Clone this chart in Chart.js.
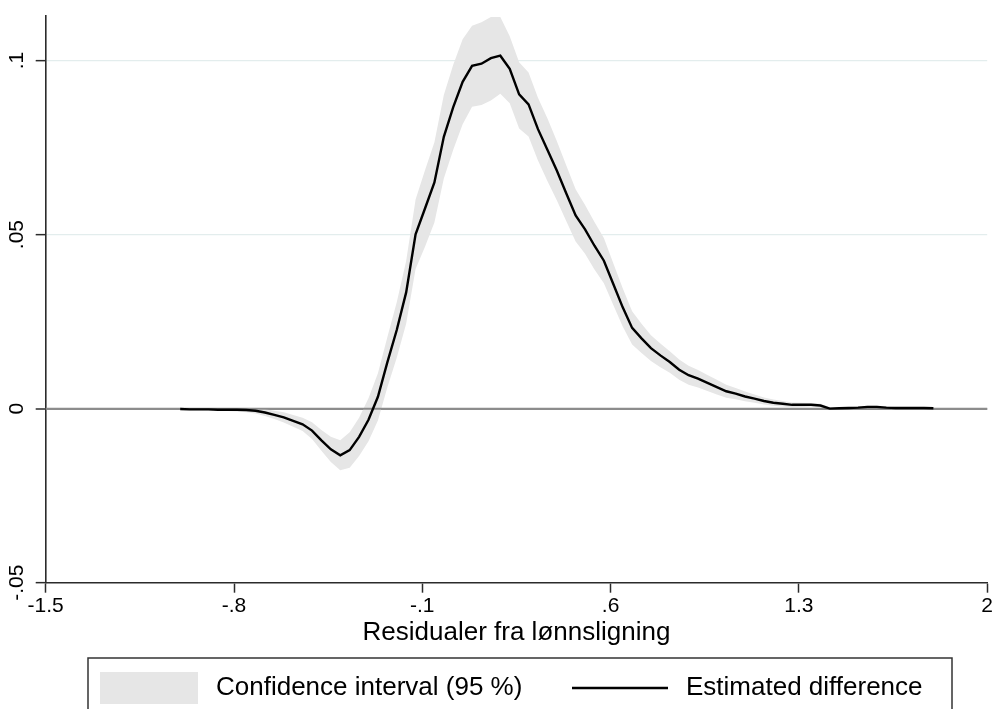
<!DOCTYPE html>
<html>
<head>
<meta charset="utf-8">
<script src="https://cdn.jsdelivr.net/npm/chart.js@4/dist/chart.umd.min.js"></script>
<style>
  html, body { margin: 0; padding: 0; background: #ffffff; }
  #wrap { width: 1000px; height: 709px; position: relative; overflow: hidden; }
</style>
</head>
<body>
<div id="wrap"><canvas id="chart" width="1000" height="709"></canvas></div>
<script>
// Evaluation grid of wage-equation residuals
const residuals = [
  -1.000, -0.965, -0.930, -0.895, -0.860, -0.825, -0.790, -0.755, -0.720, -0.685,
  -0.650, -0.615, -0.580, -0.545, -0.510, -0.475, -0.440, -0.405, -0.370, -0.335,
  -0.300, -0.265, -0.230, -0.195, -0.160, -0.125, -0.090, -0.055, -0.020, 0.015,
  0.050, 0.085, 0.120, 0.155, 0.190, 0.225, 0.260, 0.295, 0.330, 0.365,
  0.400, 0.435, 0.470, 0.505, 0.540, 0.575, 0.610, 0.645, 0.680, 0.715,
  0.750, 0.785, 0.820, 0.855, 0.890, 0.925, 0.960, 0.995, 1.030, 1.065,
  1.100, 1.135, 1.170, 1.205, 1.240, 1.275, 1.310, 1.345, 1.380, 1.415,
  1.450, 1.485, 1.520, 1.555, 1.590, 1.625, 1.660, 1.695, 1.730, 1.765, 1.800
];

// Estimated difference in densities
const estimate = [
  -0.0001, -0.0002, -0.0002, -0.0002, -0.0003, -0.0003, -0.0003, -0.0004, -0.0006, -0.0011,
  -0.0018, -0.0025, -0.0035, -0.0045, -0.0063, -0.0091, -0.0117, -0.0134, -0.0119, -0.0081,
  -0.0032, 0.0034, 0.0133, 0.0226, 0.0334, 0.0501, 0.0575, 0.0650, 0.0781, 0.0866,
  0.0939, 0.0985, 0.0991, 0.1007, 0.1014, 0.0976, 0.0903, 0.0874, 0.0803, 0.0744,
  0.0684, 0.0619, 0.0555, 0.0515, 0.0468, 0.0425, 0.0358, 0.0291, 0.0232, 0.0202,
  0.0174, 0.0153, 0.0134, 0.0112, 0.0096, 0.0086, 0.0074, 0.0062, 0.0050, 0.0043,
  0.0035, 0.0029, 0.0022, 0.0017, 0.0014, 0.0011, 0.0011, 0.0011, 0.0009, 0.0000,
  0.0001, 0.0002, 0.0003, 0.0005, 0.0005, 0.0003, 0.0002, 0.0002, 0.0002, 0.0002, 0.0001
];

// 95 % confidence band, lower bound
const ciLower = [
  -0.0004, -0.0005, -0.0005, -0.0006, -0.0006, -0.0007, -0.0008, -0.0010, -0.0014, -0.0021,
  -0.0030, -0.0040, -0.0052, -0.0064, -0.0087, -0.0121, -0.0153, -0.0177, -0.0170, -0.0136,
  -0.0094, -0.0034, 0.0061, 0.0146, 0.0244, 0.0401, 0.0465, 0.0535, 0.0661, 0.0744,
  0.0817, 0.0867, 0.0872, 0.0885, 0.0905, 0.0877, 0.0805, 0.0782, 0.0713, 0.0654,
  0.0599, 0.0539, 0.0480, 0.0445, 0.0400, 0.0360, 0.0298, 0.0236, 0.0184, 0.0160,
  0.0137, 0.0119, 0.0103, 0.0083, 0.0069, 0.0061, 0.0051, 0.0041, 0.0031, 0.0027,
  0.0021, 0.0017, 0.0012, 0.0008, 0.0006, 0.0004, 0.0005, 0.0006, 0.0004, -0.0003,
  -0.0002, -0.0001, 0.0000, 0.0002, 0.0002, 0.0000, -0.0001, -0.0001, -0.0001, -0.0001, -0.0002
];

// 95 % confidence band, upper bound
const ciUpper = [
  0.0002, 0.0001, 0.0001, 0.0001, 0.0001, 0.0001, 0.0001, 0.0002, 0.0002, -0.0001,
  -0.0006, -0.0010, -0.0018, -0.0026, -0.0039, -0.0061, -0.0081, -0.0091, -0.0068, -0.0026,
  0.0030, 0.0102, 0.0205, 0.0306, 0.0424, 0.0601, 0.0685, 0.0765, 0.0901, 0.0988,
  0.1061, 0.1100, 0.1110, 0.1125, 0.1125, 0.1070, 0.0995, 0.0966, 0.0893, 0.0834,
  0.0769, 0.0699, 0.0630, 0.0585, 0.0536, 0.0490, 0.0418, 0.0346, 0.0280, 0.0244,
  0.0211, 0.0187, 0.0165, 0.0141, 0.0123, 0.0111, 0.0097, 0.0083, 0.0069, 0.0059,
  0.0049, 0.0041, 0.0032, 0.0026, 0.0022, 0.0018, 0.0017, 0.0016, 0.0014, 0.0003,
  0.0004, 0.0005, 0.0006, 0.0008, 0.0008, 0.0006, 0.0005, 0.0005, 0.0005, 0.0005, 0.0004
];

const xTickValues = [-1.5, -0.8, -0.1, 0.6, 1.3, 2];
const xTickLabels = ['-1.5', '-.8', '-.1', '.6', '1.3', '2'];
const yTickValues = [-0.05, 0, 0.05, 0.1];
const yTickLabels = ['-.05', '0', '.05', '.1'];
const seriesLabels = ['Confidence interval (95 %)', 'Estimated difference'];
const xAxisTitle = 'Residualer fra lønnsligning';

const FONT = "'Liberation Sans', Arial, Helvetica, sans-serif";
const AXIS_COLOR = '#2b2b2b';

const toPoints = ys => residuals.map((x, i) => ({ x: x, y: ys[i] }));

// Redraws the y = 0 reference line above the shaded band, below the estimate
const zeroLine = {
  id: 'zeroLine',
  beforeDatasetDraw(chart, args, opts) {
    if (args.index !== 0) return;
    const { ctx, chartArea } = chart;
    const y = chart.scales.y.getPixelForValue(0);
    ctx.save();
    ctx.strokeStyle = opts.color;
    ctx.lineWidth = opts.width;
    ctx.beginPath();
    ctx.moveTo(chartArea.left, y);
    ctx.lineTo(chartArea.right, y);
    ctx.stroke();
    ctx.restore();
  }
};

// Framed legend row under the axis title
const boxLegend = {
  id: 'boxLegend',
  afterDraw(chart, args, o) {
    const { ctx } = chart;
    const band = chart.data.datasets[1];
    const est = chart.data.datasets[0];
    ctx.save();
    ctx.strokeStyle = o.borderColor;
    ctx.lineWidth = o.borderWidth;
    ctx.strokeRect(o.left, o.top, o.right - o.left, o.bottom - o.top);

    ctx.fillStyle = band.backgroundColor;
    ctx.fillRect(o.swatchX, o.rowY - o.swatchH / 2, o.swatchW, o.swatchH);

    ctx.strokeStyle = est.borderColor;
    ctx.lineWidth = est.borderWidth;
    ctx.beginPath();
    ctx.moveTo(o.lineX, o.rowY);
    ctx.lineTo(o.lineX + o.lineW, o.rowY);
    ctx.stroke();

    ctx.fillStyle = '#000';
    ctx.font = o.fontSize + 'px ' + FONT;
    ctx.textBaseline = 'middle';
    ctx.textAlign = 'left';
    ctx.fillText(band.label, o.text1X, o.rowY);
    ctx.fillText(est.label, o.text2X, o.rowY);
    ctx.restore();
  }
};

new Chart(document.getElementById('chart'), {
  type: 'line',
  data: {
    datasets: [
      {
        label: seriesLabels[1],
        data: toPoints(estimate),
        borderColor: '#000000',
        borderWidth: 2.4,
        pointRadius: 0,
        tension: 0,
        fill: false,
        order: 0
      },
      {
        label: seriesLabels[0],
        data: toPoints(ciUpper),
        borderColor: 'rgba(0,0,0,0)',
        borderWidth: 0,
        backgroundColor: '#e6e6e6',
        pointRadius: 0,
        tension: 0,
        fill: '+1',
        order: 1
      },
      {
        label: 'lower',
        data: toPoints(ciLower),
        borderColor: 'rgba(0,0,0,0)',
        borderWidth: 0,
        pointRadius: 0,
        tension: 0,
        fill: false,
        order: 2
      }
    ]
  },
  options: {
    responsive: false,
    animation: false,
    devicePixelRatio: 1,
    layout: { padding: { top: 16, right: 12.8, bottom: 0, left: 0 } },
    plugins: {
      legend: { display: false },
      tooltip: { enabled: false },
      zeroLine: { color: '#8c8c8c', width: 2 },
      boxLegend: {
        left: 88, right: 952, top: 658, bottom: 730,
        borderColor: '#333333', borderWidth: 1.5,
        rowY: 688, fontSize: 26,
        swatchX: 100, swatchW: 98, swatchH: 32,
        text1X: 216,
        lineX: 572, lineW: 96,
        text2X: 686
      }
    },
    scales: {
      x: {
        type: 'linear',
        min: -1.5,
        max: 2,
        afterBuildTicks: s => { s.ticks = xTickValues.map(v => ({ value: v })); },
        afterFit: s => { s.height = 126.3; },
        grid: {
          drawOnChartArea: false,
          color: AXIS_COLOR,
          tickColor: AXIS_COLOR,
          tickLength: 10,
          tickWidth: 1.5
        },
        border: { display: true, color: AXIS_COLOR, width: 1.6 },
        ticks: {
          autoSkip: false,
          minRotation: 0,
          maxRotation: 0,
          padding: 1,
          color: '#000',
          font: { family: FONT, size: 21 },
          callback: v => xTickLabels[xTickValues.indexOf(v)]
        },
        title: {
          display: true,
          text: xAxisTitle,
          color: '#000',
          font: { family: FONT, size: 26 },
          padding: { top: 0, bottom: 61 }
        }
      },
      y: {
        type: 'linear',
        min: -0.05,
        max: 0.1128,
        afterBuildTicks: s => { s.ticks = yTickValues.map(v => ({ value: v })); },
        afterFit: s => { s.width = 45.7; },
        grid: {
          color: c => {
            const v = c.tick ? c.tick.value : null;
            if (v === 0) return '#8c8c8c';
            if (v > 0) return '#e3eded';
            return 'rgba(0,0,0,0)';
          },
          lineWidth: c => (c.tick && c.tick.value === 0 ? 2 : 1.3),
          tickColor: AXIS_COLOR,
          tickLength: 10,
          tickWidth: 1.5
        },
        border: { display: true, color: AXIS_COLOR, width: 1.6 },
        ticks: {
          minRotation: 90,
          maxRotation: 90,
          crossAlign: 'center',
          padding: 0,
          color: '#000',
          font: { family: FONT, size: 21 },
          callback: v => yTickLabels[yTickValues.indexOf(v)]
        }
      }
    }
  },
  plugins: [zeroLine, boxLegend]
});
</script>
</body>
</html>
